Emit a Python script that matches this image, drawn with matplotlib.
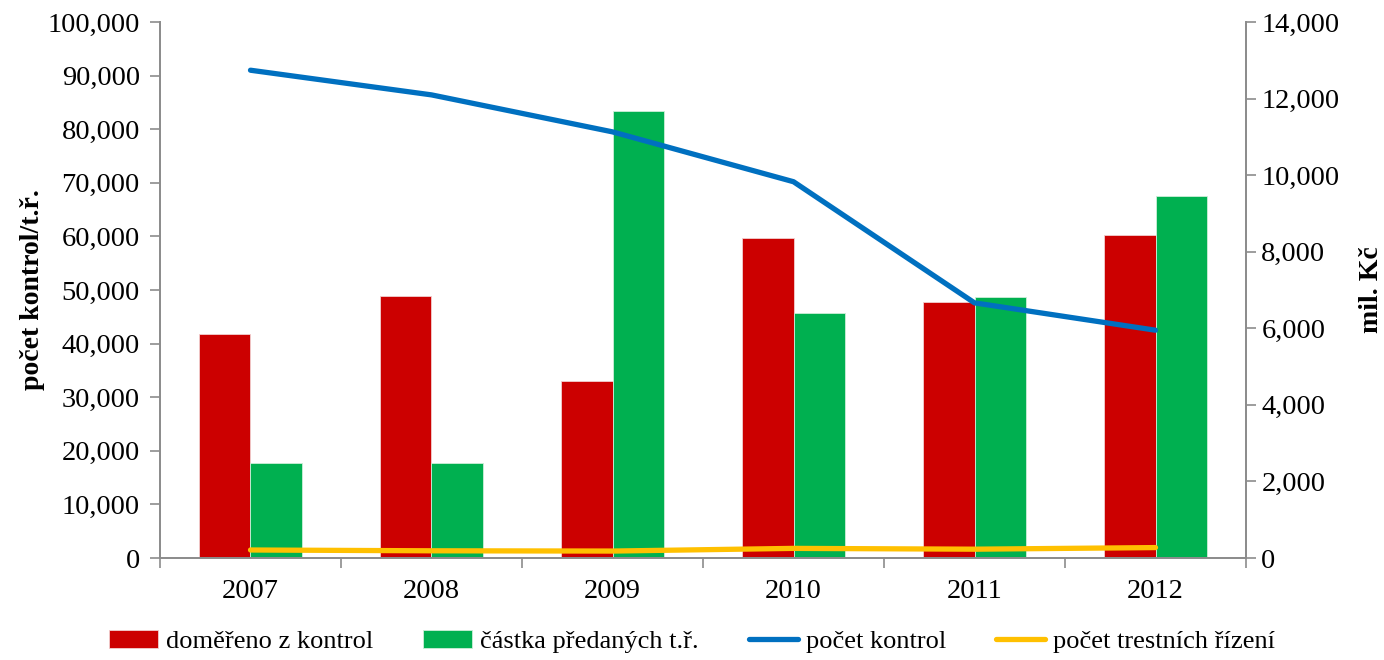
import numpy as np
import matplotlib.pyplot as plt
from matplotlib.ticker import FuncFormatter, FixedLocator

# Data
roky = ['2007', '2008', '2009', '2010', '2011', '2012']
domereno = [5840, 6835, 4625, 8365, 6695, 8430]        # mil. Kč
castka_tr = [2480, 2480, 11675, 6390, 6815, 9445]       # mil. Kč
pocet_kontrol = [91000, 86400, 79500, 70200, 47600, 42500]
pocet_tr = [1500, 1350, 1300, 1800, 1650, 1950]

plt.rcParams['font.family'] = ['Liberation Serif', 'DejaVu Serif']

fig = plt.figure(figsize=(13.84, 6.6), dpi=100)
ax = fig.add_axes([0.1156, 0.1545, 0.7847, 0.8122])
ax2 = ax.twinx()

x = np.arange(len(roky))
w = 0.287
b1 = ax2.bar(x - w / 2, domereno, w, color='#CC0000', edgecolor='#f2d0d0', linewidth=0.6,
             label='doměřeno z kontrol')
b2 = ax2.bar(x + w / 2, castka_tr, w, color='#00B050', edgecolor='#cdeed9', linewidth=0.6,
             label='částka předaných t.ř.')

# lines on the left axis, drawn above the bars
ax.set_zorder(ax2.get_zorder() + 1)
ax.patch.set_visible(False)
l1, = ax.plot(x, pocet_kontrol, color='#0070C0', lw=3.8, solid_capstyle='round',
              solid_joinstyle='round', label='počet kontrol')
l2, = ax.plot(x, pocet_tr, color='#FFC000', lw=3.8, solid_capstyle='round',
              label='počet trestních řízení')

ax.set_xlim(-0.5, 5.5)
ax.set_ylim(0, 100000)
ax2.set_ylim(0, 14000)
ax.set_yticks(np.arange(0, 100001, 10000))
ax2.set_yticks(np.arange(0, 14001, 2000))
fmt = FuncFormatter(lambda v, p: f'{int(v):,}')
ax.yaxis.set_major_formatter(fmt)
ax2.yaxis.set_major_formatter(fmt)

fs = 20.5
ax.set_xticks(x)
ax.set_xticklabels(roky)
ax.xaxis.set_minor_locator(FixedLocator(np.arange(-0.5, 6, 1)))
ax.tick_params(axis='x', which='major', length=0, pad=15, labelsize=fs)
ax.tick_params(axis='x', which='minor', length=7, color='#8c8c8c', width=1.2)

gray = '#8c8c8c'
for a in (ax, ax2):
    a.spines['top'].set_visible(False)
    for s in ('left', 'right', 'bottom'):
        a.spines[s].set_color(gray)
        a.spines[s].set_linewidth(1.3)
ax.tick_params(axis='y', length=7, color=gray, width=1.2, labelsize=fs, pad=7.5)
ax2.tick_params(axis='y', length=7, color=gray, width=1.2, labelsize=fs, pad=4)

ax.set_ylabel('počet kontrol/t.ř.', fontsize=20, fontweight='bold', labelpad=2)
ax2.set_ylabel('mil. Kč', fontsize=20, fontweight='bold', labelpad=14)

fig.legend([b1, b2, l1, l2],
           ['doměřeno z kontrol', 'částka předaných t.ř.', 'počet kontrol', 'počet trestních řízení'],
           loc='center', bbox_to_anchor=(0.5, 0.028), ncol=4, frameon=False,
           fontsize=19, handlelength=1.85, handleheight=0.65, handletextpad=0.3, columnspacing=1.9)

fig.savefig('out.png', dpi=100)
